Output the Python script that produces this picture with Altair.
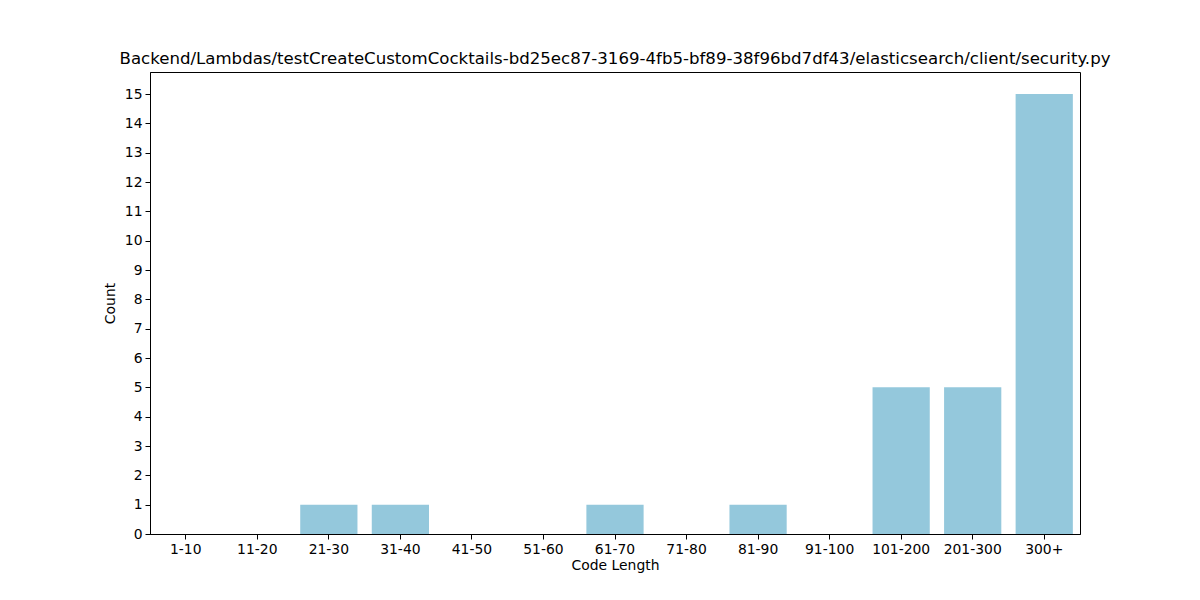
import altair as alt
import pandas as pd

categories = ["1-10", "11-20", "21-30", "31-40", "41-50", "51-60", "61-70",
              "71-80", "81-90", "91-100", "101-200", "201-300", "300+"]
counts = [0, 0, 1, 1, 0, 0, 1, 0, 1, 0, 5, 5, 15]
y_ticks = list(range(0, 16))

df = pd.DataFrame({"Code Length": categories, "Count": counts})

chart = alt.Chart(df).mark_bar(color="#94c8dc").encode(
    x=alt.X("Code Length:N", sort=categories,
            scale=alt.Scale(paddingInner=0.2, paddingOuter=0.1),
            axis=alt.Axis(labelAngle=0, title="Code Length")),
    y=alt.Y("Count:Q", scale=alt.Scale(domain=[0, 15.75], nice=False),
            axis=alt.Axis(values=y_ticks, title="Count", grid=False)),
).properties(
    width=930, height=462,
    title=alt.TitleParams(
        "Backend/Lambdas/testCreateCustomCocktails-bd25ec87-3169-4fb5-bf89-38f96bd7df43/elasticsearch/client/security.py",
        fontSize=16.6, fontWeight="normal", font="DejaVu Sans", color="black",
        offset=4, anchor="middle"),
    autosize=alt.AutoSizeParams(type="none"),
    padding={"left": 150, "top": 72, "right": 120, "bottom": 66},
).configure_view(
    stroke="black", strokeWidth=1
).configure_axis(
    labelFont="DejaVu Sans", titleFont="DejaVu Sans", labelFontSize=13.9,
    titleFontSize=13.9, titleFontWeight="normal", labelColor="black",
    titleColor="black", domainColor="black", tickColor="black",
    tickSize=5, labelPadding=3, domain=True
).configure_axisX(titlePadding=3).configure_axisY(titlePadding=7)

chart.save("out.html", embed_options={"renderer": "svg", "actions": False})
